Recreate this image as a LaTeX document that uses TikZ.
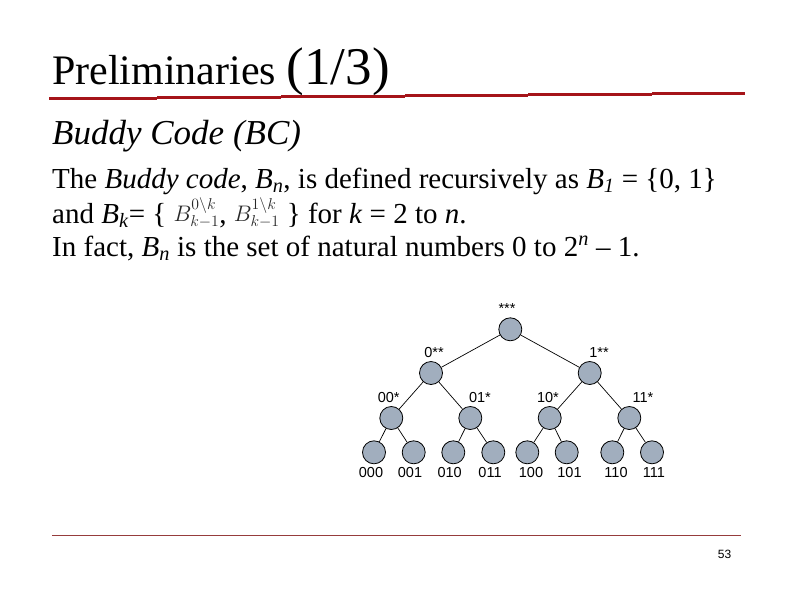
\RequirePackage{fix-cm}
\documentclass[tikz,border=0pt]{standalone}
\usepackage{fontspec}
\setmainfont{Liberation Serif}
\newfontfamily\lsans{Liberation Sans}
\definecolor{titlered}{RGB}{165,20,25}
\definecolor{footred}{RGB}{150,60,60}
\definecolor{nodefill}{RGB}{161,174,190}
\definecolor{mathgray}{RGB}{40,40,40}
\newcommand\Bs[1]{\textit{B}\textsubscript{\textit{#1}}}
\newcommand\Bset[1]{\raisebox{1.5pt}{\fontsize{22.5}{22.5}\selectfont\color{mathgray}$B^{#1\backslash k}_{k-1}$}}
\begin{document}
\begin{tikzpicture}[x=1pt,y=-1pt,
  tnode/.style={circle,draw=black,line width=0.8pt,fill=nodefill,minimum size=23pt,inner sep=0pt},
  tlab/.style={anchor=base,inner sep=0pt,font=\lsans\fontsize{14.5}{14.5}\selectfont},
  edge/.style={line width=0.7pt,black},
  body/.style={anchor=base west,inner sep=0pt,font=\fontsize{29}{32}\selectfont}]
\useasboundingbox (0,0) rectangle (794,595);
\fill[white] (0,0) rectangle (794,595);
% title
\node[anchor=base west,inner sep=0pt] (title) at (52,84)
  {\fontsize{42}{42}\selectfont Preliminaries \fontsize{53}{53}\selectfont(1/3)};
\draw[titlered,line width=2.7pt]
  (49,98.3) -- (157,98.3) (157,97.5) -- (281,97.5) (281,96.5) -- (405,96.5)
  (405,95.5) -- (528,95.5) (528,94.3) -- (652,94.3) (652,93.3) -- (745,93.3);
\node[anchor=base west,inner sep=0pt] (sub) at (52,144)
  {\fontsize{35}{35}\selectfont\itshape Buddy Code (BC)};
\node[body] (l1) at (52,188) {The \textit{Buddy code}, \Bs{n}, is defined recursively as \Bs{1} = \{0, 1\}};
\node[body] (l2) at (52,223) {and \Bs{k}= \{ \Bset{0}, \Bset{1} \} for \textit{k} = 2 to \textit{n}.};
\node[body] (l3) at (52,256) {In fact, \Bs{n} is the set of natural numbers 0 to 2\textsuperscript{\textit{n}} -- 1.};
% tree
\node[tnode] (r) at (510.3,329.3) {};
\node[tnode] (a0) at (431,373) {};
\node[tnode] (a1) at (589.7,373) {};
\node[tnode] (b00) at (391.3,418) {};
\node[tnode] (b01) at (470.3,418) {};
\node[tnode] (b10) at (549.7,418) {};
\node[tnode] (b11) at (629.3,418) {};
\node[tnode] (c000) at (374,452.3) {};
\node[tnode] (c001) at (413.7,452.3) {};
\node[tnode] (c010) at (453.3,452.3) {};
\node[tnode] (c011) at (493.3,452.3) {};
\node[tnode] (c100) at (527.3,452.3) {};
\node[tnode] (c101) at (566.7,452.3) {};
\node[tnode] (c110) at (612.3,452.3) {};
\node[tnode] (c111) at (652,452.3) {};
\draw[edge] (r) -- (a0); \draw[edge] (r) -- (a1);
\draw[edge] (a0) -- (b00); \draw[edge] (a0) -- (b01);
\draw[edge] (a1) -- (b10); \draw[edge] (a1) -- (b11);
\draw[edge] (b00) -- (c000); \draw[edge] (b00) -- (c001);
\draw[edge] (b01) -- (c010); \draw[edge] (b01) -- (c011);
\draw[edge] (b10) -- (c100); \draw[edge] (b10) -- (c101);
\draw[edge] (b11) -- (c110); \draw[edge] (b11) -- (c111);
\node[tlab] (lr) at (507,313) {***};
\node[tlab] (la0) at (434,357) {0**};
\node[tlab] (la1) at (599,357) {1**};
\node[tlab] (lb00) at (388.7,402) {00*};
\node[tlab] (lb01) at (480,402) {01*};
\node[tlab] (lb10) at (548,402) {10*};
\node[tlab] (lb11) at (643,402) {11*};
\node[tlab] (lc000) at (371,477) {000};
\node[tlab] (lc001) at (410,477) {001};
\node[tlab] (lc010) at (449.7,477) {010};
\node[tlab] (lc011) at (490,477) {011};
\node[tlab] (lc100) at (531,477) {100};
\node[tlab] (lc101) at (569.5,477) {101};
\node[tlab] (lc110) at (616,477) {110};
\node[tlab] (lc111) at (654,477) {111};
% footer
\draw[footred,line width=0.8pt] (52,535) -- (741,535);
\node[anchor=base,inner sep=0pt,font=\lsans\fontsize{12}{12}\selectfont] (pg) at (724.5,558.5) {53};
\end{tikzpicture}
\end{document}
